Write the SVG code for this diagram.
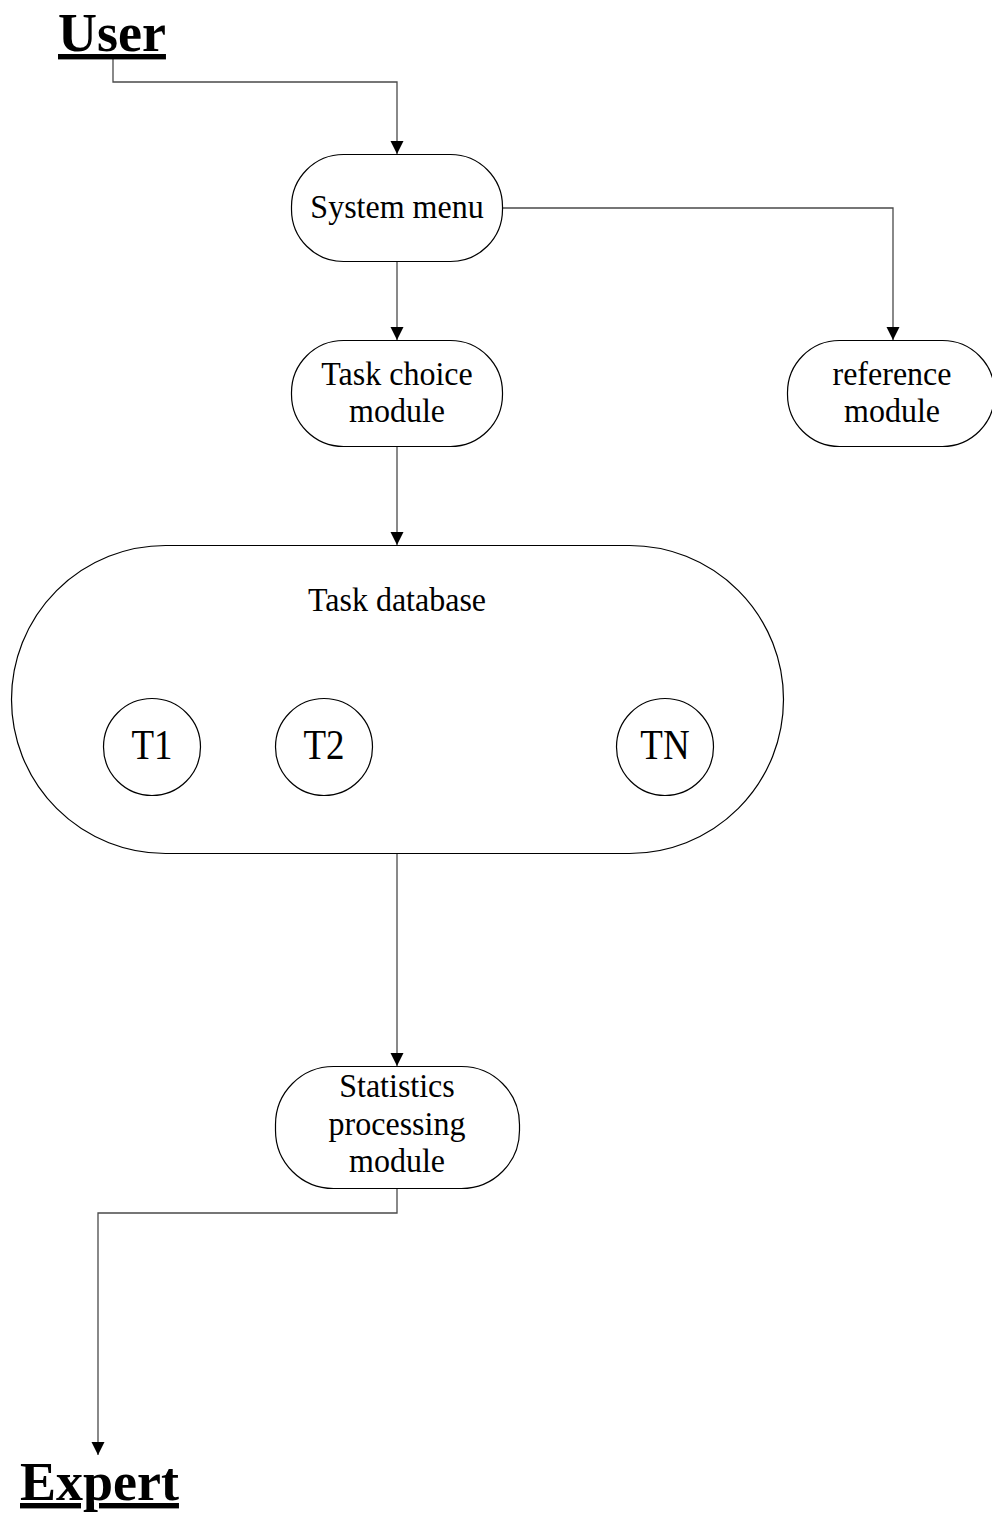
<svg xmlns="http://www.w3.org/2000/svg" width="992" height="1513" viewBox="0 0 992 1513">
  <style>
    .shape { fill: #ffffff; stroke: #000000; stroke-width: 1.2; }
    .label { font-family: "Liberation Serif", "Times New Roman", serif; font-size: 32px; fill: #000000; text-anchor: middle; }
    .task { font-family: "Liberation Serif", "Times New Roman", serif; font-size: 37px; fill: #000000; text-anchor: middle; }
    .actor { font-family: "Liberation Serif", "Times New Roman", serif; font-size: 54px; font-weight: bold; fill: #000000; text-decoration: underline; }
    .link { fill: none; stroke: #4a4a4a; stroke-width: 1.3; marker-end: url(#arrow); }
  </style>
  <defs>
    <marker id="arrow" markerUnits="userSpaceOnUse" markerWidth="14" markerHeight="14" refX="13" refY="6.5" orient="auto">
      <path d="M0,0 L13,6.5 L0,13 Z" fill="#000000"/>
    </marker>
  </defs>
  <rect width="992" height="1513" fill="#ffffff"/>

  <!-- connectors -->
  <g id="connectors">
    <path class="link" d="M113,59 V82 H397 V154"/>
    <path class="link" d="M397,262 V340"/>
    <path class="link" d="M502,208 H893 V340"/>
    <path class="link" d="M397,446 V545"/>
    <path class="link" d="M397,853 V1066"/>
    <path class="link" d="M397,1188 V1213 H98 V1455"/>
  </g>

  <g id="user">
    <text class="actor" x="58" y="51">User</text>
  </g>

  <g id="system-menu">
    <rect class="shape" x="291.5" y="154.5" width="211" height="107" rx="52" ry="52"/>
    <text class="label" transform="translate(397,218) scale(1,1.08)">System menu</text>
  </g>

  <g id="task-choice">
    <rect class="shape" x="291.5" y="340.5" width="211" height="106" rx="52" ry="52"/>
    <text class="label" transform="translate(397,385) scale(1,1.08)">Task choice</text>
    <text class="label" transform="translate(397,422) scale(1,1.08)">module</text>
  </g>

  <g id="reference-module">
    <rect class="shape" x="787.5" y="340.5" width="207" height="106" rx="52" ry="52"/>
    <text class="label" transform="translate(892,385) scale(1,1.08)">reference</text>
    <text class="label" transform="translate(892,422) scale(1,1.08)">module</text>
  </g>

  <g id="task-database">
    <rect class="shape" x="11.5" y="545.5" width="772" height="308" rx="154" ry="154"/>
    <text class="label" transform="translate(397,611) scale(1,1.08)">Task database</text>
  </g>

  <g id="task-t1">
    <circle class="shape" cx="152" cy="747" r="48.5"/>
    <text class="task" transform="translate(152,759) scale(1,1.12)">T1</text>
  </g>
  <g id="task-t2">
    <circle class="shape" cx="324" cy="747" r="48.5"/>
    <text class="task" transform="translate(324,759) scale(1,1.12)">T2</text>
  </g>
  <g id="task-tn">
    <circle class="shape" cx="665" cy="747" r="48.5"/>
    <text class="task" transform="translate(665,759) scale(1,1.12)">TN</text>
  </g>

  <g id="statistics-module">
    <rect class="shape" x="275.5" y="1066.5" width="244" height="122" rx="58" ry="58"/>
    <text class="label" transform="translate(397,1097) scale(1,1.08)">Statistics</text>
    <text class="label" transform="translate(397,1135) scale(1,1.08)">processing</text>
    <text class="label" transform="translate(397,1172) scale(1,1.08)">module</text>
  </g>

  <g id="expert">
    <text class="actor" x="20" y="1500">Expert</text>
  </g>
</svg>
